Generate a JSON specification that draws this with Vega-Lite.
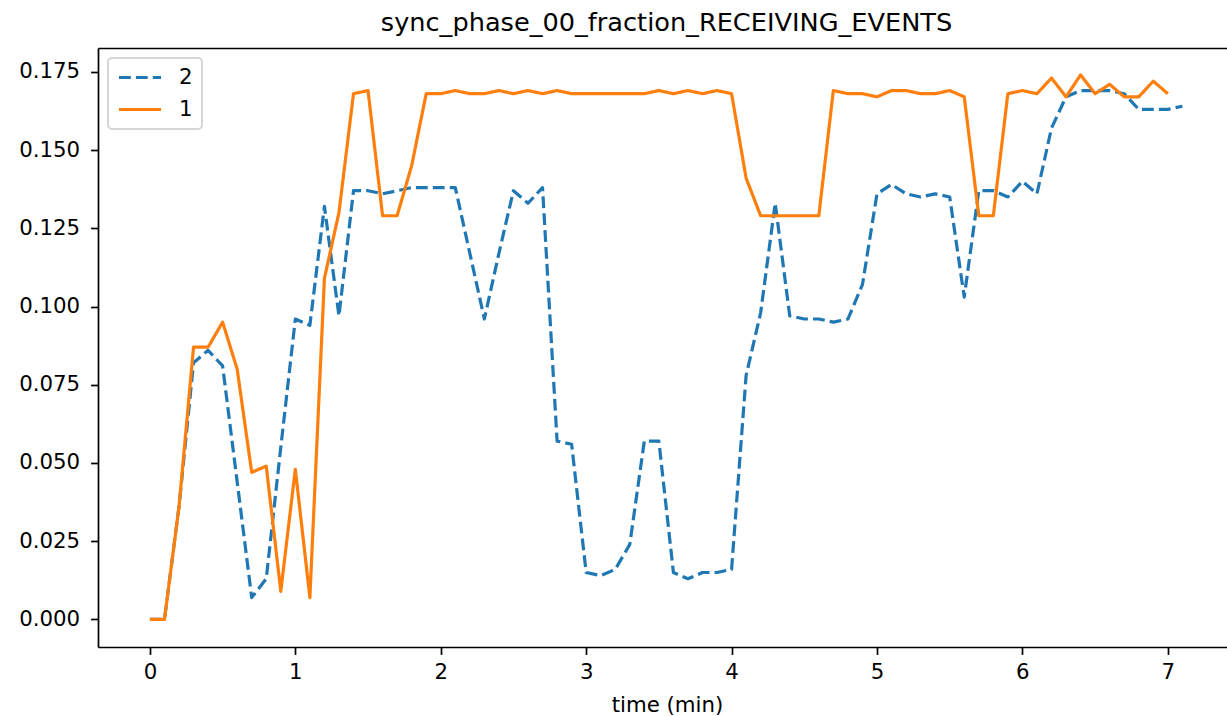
{
  "$schema": "https://vega.github.io/schema/vega-lite/v6.json",
  "autosize": {"type": "none"},
  "width": 1129,
  "height": 599,
  "padding": {"left": 98, "top": 48, "right": 0, "bottom": 69},
  "background": "white",
  "config": {
    "view": {"stroke": null},
    "font": "DejaVu Sans",
    "legend": {"strokeWidth": 2},
    "axis": {
      "labelFont": "DejaVu Sans", "labelFontSize": 21.3, "labelColor": "black",
      "titleFont": "DejaVu Sans", "titleFontSize": 21.3, "titleFontWeight": "normal", "titleColor": "black",
      "domainColor": "black", "domainWidth": 1.7, "tickColor": "black", "tickWidth": 1.7, "tickSize": 7.4,
      "labelPadding": 7, "grid": false
    }
  },
  "title": {"text": "sync_phase_00_fraction_RECEIVING_EVENTS", "font": "DejaVu Sans", "fontSize": 25.6, "fontWeight": "normal", "color": "black", "baseline": "alphabetic", "offset": -9, "dx": 4},
  "data": {"values": [
    {"t":0,"v":0,"s":"2"},{"t":0.1,"v":0,"s":"2"},{"t":0.2,"v":0.036,"s":"2"},{"t":0.3,"v":0.082,"s":"2"},{"t":0.4,"v":0.086,"s":"2"},{"t":0.5,"v":0.081,"s":"2"},{"t":0.6,"v":0.044,"s":"2"},{"t":0.7,"v":0.007,"s":"2"},{"t":0.8,"v":0.013,"s":"2"},{"t":0.9,"v":0.055,"s":"2"},
    {"t":1.0,"v":0.096,"s":"2"},{"t":1.1,"v":0.094,"s":"2"},{"t":1.2,"v":0.132,"s":"2"},{"t":1.3,"v":0.097,"s":"2"},{"t":1.4,"v":0.137,"s":"2"},{"t":1.5,"v":0.137,"s":"2"},{"t":1.6,"v":0.136,"s":"2"},{"t":1.7,"v":0.137,"s":"2"},{"t":1.8,"v":0.138,"s":"2"},{"t":1.9,"v":0.138,"s":"2"},
    {"t":2.0,"v":0.138,"s":"2"},{"t":2.1,"v":0.138,"s":"2"},{"t":2.2,"v":0.117,"s":"2"},{"t":2.3,"v":0.096,"s":"2"},{"t":2.4,"v":0.117,"s":"2"},{"t":2.5,"v":0.137,"s":"2"},{"t":2.6,"v":0.133,"s":"2"},{"t":2.7,"v":0.138,"s":"2"},{"t":2.8,"v":0.057,"s":"2"},{"t":2.9,"v":0.056,"s":"2"},
    {"t":3.0,"v":0.015,"s":"2"},{"t":3.1,"v":0.014,"s":"2"},{"t":3.2,"v":0.016,"s":"2"},{"t":3.3,"v":0.024,"s":"2"},{"t":3.4,"v":0.057,"s":"2"},{"t":3.5,"v":0.057,"s":"2"},{"t":3.6,"v":0.015,"s":"2"},{"t":3.7,"v":0.013,"s":"2"},{"t":3.8,"v":0.015,"s":"2"},{"t":3.9,"v":0.015,"s":"2"},
    {"t":4.0,"v":0.016,"s":"2"},{"t":4.1,"v":0.078,"s":"2"},{"t":4.2,"v":0.098,"s":"2"},{"t":4.3,"v":0.133,"s":"2"},{"t":4.4,"v":0.097,"s":"2"},{"t":4.5,"v":0.096,"s":"2"},{"t":4.6,"v":0.096,"s":"2"},{"t":4.7,"v":0.095,"s":"2"},{"t":4.8,"v":0.096,"s":"2"},{"t":4.9,"v":0.107,"s":"2"},
    {"t":5.0,"v":0.136,"s":"2"},{"t":5.1,"v":0.139,"s":"2"},{"t":5.2,"v":0.136,"s":"2"},{"t":5.3,"v":0.135,"s":"2"},{"t":5.4,"v":0.136,"s":"2"},{"t":5.5,"v":0.135,"s":"2"},{"t":5.6,"v":0.103,"s":"2"},{"t":5.7,"v":0.137,"s":"2"},{"t":5.8,"v":0.137,"s":"2"},{"t":5.9,"v":0.135,"s":"2"},
    {"t":6.0,"v":0.140,"s":"2"},{"t":6.1,"v":0.136,"s":"2"},{"t":6.2,"v":0.157,"s":"2"},{"t":6.3,"v":0.167,"s":"2"},{"t":6.4,"v":0.169,"s":"2"},{"t":6.5,"v":0.169,"s":"2"},{"t":6.6,"v":0.169,"s":"2"},{"t":6.7,"v":0.168,"s":"2"},{"t":6.8,"v":0.163,"s":"2"},{"t":6.9,"v":0.163,"s":"2"},
    {"t":7.0,"v":0.163,"s":"2"},{"t":7.1,"v":0.164,"s":"2"},
    {"t":0,"v":0,"s":"1"},{"t":0.1,"v":0,"s":"1"},{"t":0.2,"v":0.036,"s":"1"},{"t":0.3,"v":0.087,"s":"1"},{"t":0.4,"v":0.087,"s":"1"},{"t":0.5,"v":0.095,"s":"1"},{"t":0.6,"v":0.080,"s":"1"},{"t":0.7,"v":0.047,"s":"1"},{"t":0.8,"v":0.049,"s":"1"},{"t":0.9,"v":0.009,"s":"1"},
    {"t":1.0,"v":0.048,"s":"1"},{"t":1.1,"v":0.007,"s":"1"},{"t":1.2,"v":0.109,"s":"1"},{"t":1.3,"v":0.130,"s":"1"},{"t":1.4,"v":0.168,"s":"1"},{"t":1.5,"v":0.169,"s":"1"},{"t":1.6,"v":0.129,"s":"1"},{"t":1.7,"v":0.129,"s":"1"},{"t":1.8,"v":0.145,"s":"1"},{"t":1.9,"v":0.168,"s":"1"},
    {"t":2.0,"v":0.168,"s":"1"},{"t":2.1,"v":0.169,"s":"1"},{"t":2.2,"v":0.168,"s":"1"},{"t":2.3,"v":0.168,"s":"1"},{"t":2.4,"v":0.169,"s":"1"},{"t":2.5,"v":0.168,"s":"1"},{"t":2.6,"v":0.169,"s":"1"},{"t":2.7,"v":0.168,"s":"1"},{"t":2.8,"v":0.169,"s":"1"},{"t":2.9,"v":0.168,"s":"1"},
    {"t":3.0,"v":0.168,"s":"1"},{"t":3.1,"v":0.168,"s":"1"},{"t":3.2,"v":0.168,"s":"1"},{"t":3.3,"v":0.168,"s":"1"},{"t":3.4,"v":0.168,"s":"1"},{"t":3.5,"v":0.169,"s":"1"},{"t":3.6,"v":0.168,"s":"1"},{"t":3.7,"v":0.169,"s":"1"},{"t":3.8,"v":0.168,"s":"1"},{"t":3.9,"v":0.169,"s":"1"},
    {"t":4.0,"v":0.168,"s":"1"},{"t":4.1,"v":0.141,"s":"1"},{"t":4.2,"v":0.129,"s":"1"},{"t":4.3,"v":0.129,"s":"1"},{"t":4.4,"v":0.129,"s":"1"},{"t":4.5,"v":0.129,"s":"1"},{"t":4.6,"v":0.129,"s":"1"},{"t":4.7,"v":0.169,"s":"1"},{"t":4.8,"v":0.168,"s":"1"},{"t":4.9,"v":0.168,"s":"1"},
    {"t":5.0,"v":0.167,"s":"1"},{"t":5.1,"v":0.169,"s":"1"},{"t":5.2,"v":0.169,"s":"1"},{"t":5.3,"v":0.168,"s":"1"},{"t":5.4,"v":0.168,"s":"1"},{"t":5.5,"v":0.169,"s":"1"},{"t":5.6,"v":0.167,"s":"1"},{"t":5.7,"v":0.129,"s":"1"},{"t":5.8,"v":0.129,"s":"1"},{"t":5.9,"v":0.168,"s":"1"},
    {"t":6.0,"v":0.169,"s":"1"},{"t":6.1,"v":0.168,"s":"1"},{"t":6.2,"v":0.173,"s":"1"},{"t":6.3,"v":0.167,"s":"1"},{"t":6.4,"v":0.174,"s":"1"},{"t":6.5,"v":0.168,"s":"1"},{"t":6.6,"v":0.171,"s":"1"},{"t":6.7,"v":0.167,"s":"1"},{"t":6.8,"v":0.167,"s":"1"},{"t":6.9,"v":0.172,"s":"1"},
    {"t":7.0,"v":0.168,"s":"1"}
  ]},
  "layer": [
    {
      "mark": {"type": "line", "strokeWidth": 3.2, "strokeCap": "butt", "strokeJoin": "round", "clip": true},
      "encoding": {
        "x": {"field": "t", "type": "quantitative", "scale": {"domain": [-0.357, 7.407], "nice": false, "zero": false},
              "axis": {"values": [0,1,2,3,4,5,6,7], "format": "d", "title": "time (min)", "titleX": 569, "titlePadding": 12}},
        "y": {"field": "v", "type": "quantitative", "scale": {"domain": [-0.0088, 0.1826], "nice": false, "zero": false},
              "axis": {"values": [0,0.025,0.05,0.075,0.1,0.125,0.15,0.175], "format": ".3f", "title": null, "labelPadding": 11}},
        "color": {"field": "s", "type": "nominal",
                  "scale": {"domain": ["2","1"], "range": ["#1f77b4","#ff7f0e"]},
                  "legend": {"title": null, "orient": "none", "legendX": 10, "legendY": 10,
                             "symbolType": "stroke", "symbolSize": 1764, "symbolStrokeWidth": 3.2, "clipHeight": 21,
                             "labelFont": "DejaVu Sans", "labelFontSize": 21.3, "labelColor": "black", "labelOffset": 16,
                             "rowPadding": 10, "padding": 9, "strokeColor": "#d5d5d5", "cornerRadius": 4, "fillColor": "white"}},
        "strokeDash": {"field": "s", "type": "nominal",
                       "scale": {"domain": ["2","1"], "range": [[11.8,5.1],[1,0]]}, "legend": null}
      }
    },
    {
      "mark": {"type": "line", "opacity": 0},
      "encoding": {
        "x": {"field": "t", "type": "quantitative", "axis": {"orient": "top", "labels": false, "ticks": false, "title": null, "domain": true}}
      }
    }
  ],
  "resolve": {"axis": {"x": "independent"}}
}
